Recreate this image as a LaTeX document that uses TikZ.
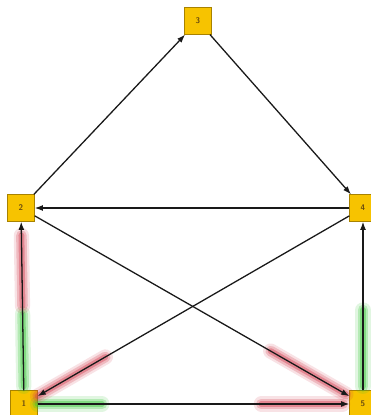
\documentclass[tikz,border=0pt]{standalone}
\usetikzlibrary{arrows.meta,calc}
\definecolor{boxfill}{HTML}{F7C300}
\definecolor{boxline}{HTML}{A88200}
\definecolor{boxtext}{HTML}{6A4C10}
\definecolor{hlgreen}{HTML}{33C433}
\definecolor{hlred}{HTML}{D23C4E}
\tikzset{
  vertex/.style={draw=boxline,fill=boxfill,line width=0.5pt,minimum size=0.8cm,inner sep=0pt,
    font=\sffamily\scriptsize\bfseries,text=boxtext},
  edge/.style={draw=black!90,line width=1.1pt,-{Latex[length=7pt,width=5pt]}},
  glow/.style={line cap=round,draw=#1,draw opacity=0.15,line width=13pt,
    postaction={draw=#1,draw opacity=0.25,line width=9pt},
    postaction={draw=#1,draw opacity=0.4,line width=5pt}}
}
\begin{document}
\begin{tikzpicture}[x=0.03cm,y=0.03cm]
\useasboundingbox (0,0) rectangle (371,415);
% nodes
\node[vertex] (n3) at (198,394) {3};
\node[vertex] (n2) at (21,207) {2};
\node[vertex] (n4) at (363,207) {4};
\node[vertex] (n1) at (24,11) {1};
\node[vertex] (n5) at (363,11) {5};
% highlighted parts
\draw[glow=hlgreen] ($(n1)!0.09!(n2)$) -- ($(n1)!0.46!(n2)$);
\draw[glow=hlred] ($(n1)!0.50!(n2)$) -- ($(n1)!0.86!(n2)$);
\draw[glow=hlgreen] ($(n5)!0.09!(n4)$) -- ($(n5)!0.48!(n4)$);
\draw[glow=hlgreen] ($(n1)!0.04!(n5)$) -- ($(n1)!0.23!(n5)$);
\draw[glow=hlred] ($(n1)!0.70!(n5)$) -- ($(n1)!0.94!(n5)$);
\draw[glow=hlred] ($(n4)!0.76!(n1)$) -- ($(n4)!0.96!(n1)$);
\draw[glow=hlred] ($(n2)!0.73!(n5)$) -- ($(n2)!0.95!(n5)$);
% edges
\draw[edge] (n2) -- (n3);
\draw[edge] (n3) -- (n4);
\draw[edge] (n4) -- (n2);
\draw[edge] (n1) -- (n2);
\draw[edge] (n4) -- (n1);
\draw[edge] (n2) -- (n5);
\draw[edge] (n1) -- (n5);
\draw[edge] (n5) -- (n4);
\end{tikzpicture}
\end{document}
